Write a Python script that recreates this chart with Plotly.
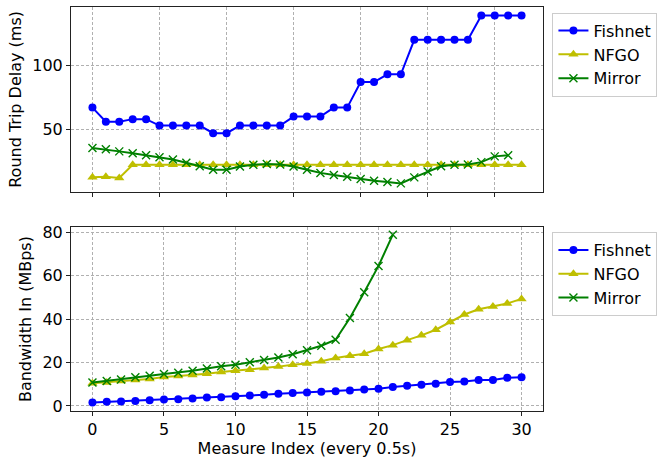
import plotly.graph_objects as go

# ---- data ----
rtt_fishnet = [67, 56, 56, 58, 58, 53, 53, 53, 53, 47, 47, 53, 53, 53, 53, 60, 60, 60, 67, 67,
               87, 87, 93, 93, 120, 120, 120, 120, 120, 139, 139, 139, 139]
rtt_nfgo = [12.5, 13, 12] + [22.3] * 30
rtt_mirror = [35.5, 34.4, 32.8, 31.3, 29.7, 28.3, 26.5, 23.9, 21.2, 18.4, 18.4, 21, 22.3, 23, 22.5,
              21, 18.4, 16, 14.4, 12.9, 11.3, 9.9, 8.9, 7.8, 12.5, 17, 21.2, 22.3, 22.5, 24.4, 28.9, 29.7]

bw_fishnet = [1.6, 1.9, 2.0, 2.3, 2.6, 2.9, 3.1, 3.4, 3.9, 4.0, 4.5, 4.8, 5.1, 5.6, 5.9, 6.2,
              6.5, 6.8, 7.1, 7.6, 7.9, 8.7, 9.3, 9.7, 10.2, 11.0, 11.3, 11.9, 11.9, 13.0, 13.2]
bw_nfgo = [10.4, 10.8, 11.5, 11.9, 12.4, 13.3, 13.8, 14.2, 14.8, 15.6, 16.2, 16.7, 17.5, 18.1, 19.0,
           19.5, 20.6, 22.1, 23.1, 24.0, 26.2, 28.0, 30.3, 32.5, 35.1, 38.7, 42.1, 44.5, 45.8, 47.2, 49.3]
bw_mirror = [10.8, 11.5, 12.2, 13.2, 13.9, 14.7, 15.3, 16.2, 17.2, 18.3, 19.0, 20.1, 21.2, 22.3,
             23.8, 25.6, 27.7, 30.5, 40.5, 52.4, 64.5, 78.9]

series_names = ["Fishnet", "NFGO", "Mirror"]
top_ticks = [50, 100]
bottom_ticks = [0, 20, 40, 60, 80]
x_ticks = [0, 5, 10, 15, 20, 25, 30]

BLUE = "#0000ff"
YEL = "#bfbf00"
GRN = "#008000"
FONT = "DejaVu Sans"

styles = {
    "Fishnet": dict(color=BLUE, symbol="circle", size=8, line=dict(width=0)),
    "NFGO": dict(color=YEL, symbol="triangle-up", size=9, line=dict(width=0)),
    "Mirror": dict(color=GRN, symbol="x-thin", size=8, line=dict(width=1.4, color=GRN)),
}

fig = go.Figure()

def add(ys, name, xa, ya, legend):
    st = styles[name]
    fig.add_trace(go.Scatter(
        x=list(range(len(ys))), y=ys, name=name, mode="lines+markers",
        line=dict(color=st["color"], width=2),
        marker=dict(color=st["color"], symbol=st["symbol"], size=st["size"], line=st["line"]),
        xaxis=xa, yaxis=ya, legend=legend,
    ))

for ys, n in zip([rtt_fishnet, rtt_nfgo, rtt_mirror], series_names):
    add(ys, n, "x", "y", "legend")
for ys, n in zip([bw_fishnet, bw_nfgo, bw_mirror], series_names):
    add(ys, n, "x2", "y2", "legend2")

axis_common = dict(
    showline=True, mirror=True, linecolor="#222222", linewidth=1,
    showgrid=True, gridcolor="#b0b0b0", griddash="3px,2px", gridwidth=0.8,
    ticks="outside", ticklen=4, tickcolor="#222222",
    tickfont=dict(family=FONT, size=16, color="black"),
    zeroline=False, automargin=False,
)

fig.update_layout(
    width=669, height=462,
    margin=dict(l=71, r=126, t=7, b=51),
    paper_bgcolor="white", plot_bgcolor="white",
    font=dict(family=FONT, size=16, color="black"),
    xaxis=dict(domain=[0, 1], anchor="y", range=[-1.6, 33.6], tickvals=x_ticks,
               showticklabels=False, **axis_common),
    yaxis=dict(domain=[0.5425, 1], anchor="x", range=[1.2, 145.6], tickvals=top_ticks,
               title=dict(text="Round Trip Delay (ms)", font=dict(family=FONT, size=16), standoff=6),
               **axis_common),
    xaxis2=dict(domain=[0, 1], anchor="y2", range=[-1.5, 31.5], tickvals=x_ticks,
                title=dict(text="Measure Index (every 0.5s)", font=dict(family=FONT, size=16), standoff=4),
                **axis_common),
    yaxis2=dict(domain=[0, 0.455], anchor="x2", range=[-2.35, 82.35], tickvals=bottom_ticks,
                title=dict(text="Bandwidth In (MBps)", font=dict(family=FONT, size=16), standoff=6),
                **axis_common),
    legend=dict(x=1.02, y=0.986, xanchor="left", yanchor="top",
                bordercolor="#cccccc", borderwidth=1, bgcolor="white",
                font=dict(family=FONT, size=16), tracegroupgap=0),
    legend2=dict(x=1.02, y=0.443, xanchor="left", yanchor="top",
                 bordercolor="#cccccc", borderwidth=1, bgcolor="white",
                 font=dict(family=FONT, size=16), tracegroupgap=0),
)

fig.write_html("out.html", config={"displayModeBar": False},
               post_script="document.body.style.margin='0';document.body.style.padding='0';")
